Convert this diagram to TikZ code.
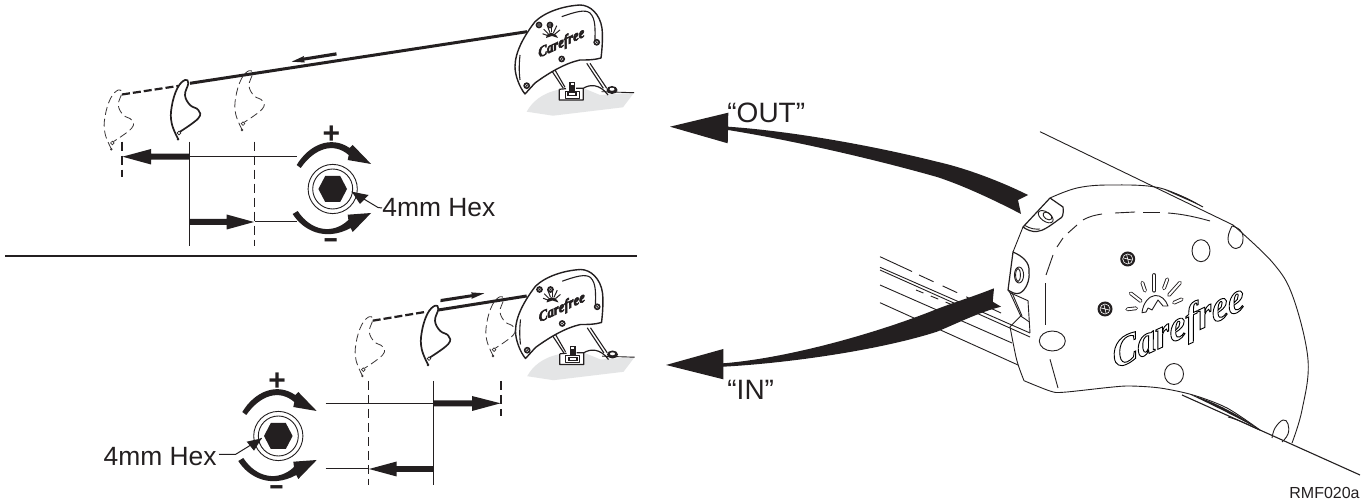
\documentclass[tikz,border=0pt]{standalone}
\usepackage{fontspec}
\usepackage{graphicx}
\setmainfont{Liberation Sans}
\newfontfamily\logofont[FakeSlant=0.3]{Liberation Serif}
\usetikzlibrary{calc}
\definecolor{ink}{HTML}{231F20}
\definecolor{basegray}{HTML}{E4E5E6}
\tikzset{
  thinln/.style={draw=ink,line width=0.7pt,line join=round},
  hair/.style={draw=ink,line width=0.45pt,line join=round},
  fillk/.style={fill=ink,draw=none},
  lab/.style={font=\fontsize{13.2}{14}\selectfont,text=ink,inner sep=0pt},
  dash1/.style={draw=ink!85,line width=0.55pt,dash pattern=on 4.5pt off 2.5pt},
  hookdash/.style={draw=ink!90,line width=0.4pt,dash pattern=on 4pt off 2pt},
  hooksolid/.style={draw=ink,line width=0.85pt},
  pics/hookp/.style={code={
    \path[pic actions,line join=round] plot[smooth,tension=.7] coordinates {(-6.7,59.3)(-13.3,43.3)(-13.3,26.7)(-7.7,8.3)(0,0)(3.3,3.3)(0,15)(5,25)(13.3,30)(13.3,38.3)(-5,51.7)};
    \path[pic actions,line width=0.35pt,solid] (-6,53) circle[radius=1.8];
    \path[pic actions,solid,line width=0.35pt] (-7,59.3) circle[radius=.8];
  }},
  pics/knobp/.style={code={
    \draw[hair] (0,0) circle[radius=24.6];
    \draw[hair] (0,0) circle[radius=20];
    \fill[ink] (-14.3,0)--(-7.5,-13)--(7.5,-13)--(14.3,0)--(7.5,13)--(-7.5,13)--cycle;
    \fill[ink] (-36,-24) .. controls (-24,-44) and (-2,-54) .. (17,-41) -- (20,-44) -- (38.4,-25) -- (15,-29) -- (16,-34) .. controls (1,-47) and (-18,-41) .. (-32,-21) -- cycle;
    \fill[ink] (-40,25) .. controls (-30,41) and (-8,53) .. (18,39) -- (20,43) -- (38.4,24) -- (15,25.7) -- (15.7,31) .. controls (0,46) and (-22,42) .. (-35,22) -- cycle;
    \node[lab,font=\fontsize{15}{15}\bfseries\selectfont,anchor=base] (plus) at (-1.2,-45) {+};
    \node[lab,font=\fontsize{14}{14}\bfseries\selectfont,anchor=base] (minus) at (-1.8,58.5) {\scalebox{1.7}[1]{-}};
  }},
  pics/capp/.style={code={
    % gray base
    \fill[basegray] (526.7,111.7) .. controls (532,102) and (542,93) .. (559,89.7) -- (559.5,100) -- (583,100) -- (583,88) -- (600,95) -- (634,92.7) -- (623,107.3) -- (553,115.7) -- cycle;
    % struts and bracket
    \draw[hair,line width=.55pt] (551.7,70.7) -- (563.3,88.3);
    \draw[hair,line width=.55pt] (555,70) -- (565,87.3);
    \draw[hair,line width=.55pt] (586.7,63.3) -- (603.3,88.3);
    \draw[hair,line width=.55pt] (590,63.3) -- (606.7,88.3);
    \draw[thinln,line width=.6pt] (559.3,89.3) -- (559.3,100) -- (583.3,100) -- (583.3,88.3) .. controls (590,84) and (600,84) .. (608,95);
    \draw[hair,line width=.6pt] (559.3,89.3) -- (566,88.7) (576,88.3) -- (583.3,88.3);
    \draw[hair] (601.7,91.7) -- (634,92.7);
    \draw[thinln,line width=.45pt] (565,91) rectangle (579,98);
    \fill[ink] (567,92.5) rectangle (577,96.5);
    \fill[white] (569,93.5) rectangle (575,95.5);
    \fill[ink] (569,82) rectangle (575,91);
    \fill[white] (570.5,83) rectangle (573.5,85);
    \fill[ink] (612,90) ellipse[x radius=5.5,y radius=4];
    \fill[white] (612,89.3) ellipse[x radius=2.5,y radius=1.5];
    % shell
    \filldraw[fill=white,draw=ink,line width=.7pt,line join=round] (525,94) .. controls (520,88) and (515,76) .. (515,66.7) .. controls (515,52) and (524,36) .. (535,21.7) .. controls (545,12) and (563,6) .. (580,5) .. controls (590,5) and (600,14) .. (602,28.3) .. controls (603,38) and (602,50) .. (601,58) .. controls (594,60) and (588,60) .. (580,60) .. controls (566,63) and (550,72) .. (535,83) -- cycle;
    \draw[hair,line width=.55pt] (520,55) .. controls (519,65) and (519,72) .. (520,80);
    \draw[hair,line width=.55pt] (561.7,16.7) .. controls (575,12) and (585,9) .. (590,13) .. controls (596,19) and (595,30) .. (595,40);
    \foreach \p in {(539,25),(550,25),(596.7,42.3),(561.7,59),(526.7,85.7)} {\fill[ink] \p circle[radius=3.4];\draw[white,line width=.15pt] \p circle[radius=1.5];}
    \node[rotate=25,inner sep=0pt,text=ink,font=\fontsize{7}{7}\logofont\bfseries\itshape\selectfont] (smalllogo) at (560.5,44) {\special{pdf:code 2 Tr 0.3 w}Carefree\special{pdf:code 0 Tr}};
    \foreach \a/\b in {-70/5,-45/6.5,-20/8,0/8,25/8,50/6.5} {\draw[ink,line width=.5pt] ($(551.5,37)+(\a-90:4.5)$) -- ($(551.5,37)+(\a-90:4.5+\b)$);}
    \fill[ink] (546,38) .. controls (547,31) and (555,31) .. (558,38) -- (552,36) -- cycle;
  }},
}
\begin{document}
\begin{tikzpicture}[x=.5pt,y=-.5pt]
\path[use as bounding box,fill=white] (0,0) rectangle (1364,501);

% ---------- divider
\draw[ink,line width=1.2pt] (5,256) -- (637,256);

% ---------- top panel
\pic at (0,0) {capp};
\coordinate (topH) at (185,80);
\coordinate (topHa) at (118.3,90);
\coordinate (topHb) at (249,70.7);
\pic[hookdash] at (topHa) {hookp};
\pic[hookdash] at (topHb) {hookp};
\pic[hooksolid] at (topH) {hookp};
\draw[ink,line width=1.5pt] (190,83.3) -- (527,31.7);
\draw[ink,line width=1.1pt,dash pattern=on 4pt off 1.5pt] (122,94.5) -- (178,86);
\fill[ink] (291.7,61.7) -- (304,56) -- (303.5,57.6) -- (336.3,52.3) -- (336.7,55.5) -- (304,60.6) -- (305,62.5) -- cycle;
\draw[thinln] (189.3,141.7) -- (189.3,245.7);
\draw[dash1,draw=ink] (254.7,141.7) -- (254.7,245.7);
\draw[dash1,draw=ink] (122,141.7) -- (122,177);
\draw[thinln,line width=.5pt] (189.3,156.7) -- (296.7,156.7);
\draw[thinln,line width=.5pt] (254.7,222) -- (296.7,222);
\fill[ink] (189.3,153.7) -- (151,153.7) -- (151,149) -- (122.5,156.7) -- (151,164.5) -- (151,159.7) -- (189.3,159.7) -- cycle;
\fill[ink] (189.3,219) -- (226.7,219) -- (226.7,214.5) -- (254,222) -- (226.7,229.5) -- (226.7,225) -- (189.3,225) -- cycle;
\pic at (332.7,189) {knobp};
\node[lab,anchor=west] (hexa) at (382,208) {4mm Hex};
\coordinate (hexatip) at (351.7,191.7);
\draw[thinln,line width=.5pt] (hexa.west) ++(-4,-.5) coordinate (hexaj) -- (hexa.west);
\draw[thinln,line width=.5pt] (hexaj) -- (hexatip);
\fill[ink] (hexatip) -- (368.5,195) -- (360,204) -- cycle;

% ---------- bottom panel
\pic at (0.5,264.5) {capp};
\coordinate (botH) at (435,305.7);
\coordinate (botHa) at (369.3,316.7);
\coordinate (botHb) at (500,296.7);
\pic[hookdash] at (botHa) {hookp};
\pic[hookdash] at (botHb) {hookp};
\pic[hooksolid] at (botH) {hookp};
\draw[ink,line width=1.5pt] (438.3,310) -- (526.7,296);
\draw[ink,line width=1.1pt,dash pattern=on 4pt off 1.5pt] (372.7,320.7) -- (426.7,311.7);
\fill[ink] (484.3,293.3) -- (471.5,298.9) -- (472,297.2) -- (440.3,302.2) -- (440.7,299) -- (472,294.2) -- (471,292.4) -- cycle;
\draw[thinln] (433.7,381) -- (433.7,485);
\draw[dash1,draw=ink] (368.3,381) -- (368.3,485);
\draw[dash1,draw=ink] (501,381) -- (501,416);
\draw[thinln,line width=.5pt] (325.7,403.3) -- (433.7,403.3);
\draw[thinln,line width=.5pt] (325.7,469) -- (368.3,469);
\fill[ink] (433.7,400.4) -- (472,400.4) -- (472,396) -- (500.5,403.3) -- (472,411) -- (472,406.3) -- (433.7,406.3) -- cycle;
\fill[ink] (433.7,466.2) -- (396.7,466.2) -- (396.7,461.5) -- (369,469) -- (396.7,476.5) -- (396.7,472) -- (433.7,472) -- cycle;
\pic at (278.3,436) {knobp};
\node[lab,anchor=east] (hexb) at (217,456.5) {4mm Hex};
\coordinate (hexbtip) at (261.7,438.3);
\draw[thinln,line width=.5pt] (hexb.east) ++(2,-2) coordinate (hexbj) -- (235.7,454.3) -- (hexbtip);
\fill[ink] (hexbtip) -- (246.7,441.7) -- (254,450.7) -- cycle;

% ---------- large cap
% rail
\draw[hair] (880,256.7) -- (912,271.5);
\draw[hair,dash pattern=on 8pt off 5pt] (919,275) -- (1001,313);
\draw[hair] (880,267.3) -- (1030,333);
\draw[hair] (880,270) -- (1030,337);
\draw[hair] (880,285) -- (1012,343);
\draw[hair] (880,302.7) -- (1018,365);
\draw[hair,dash pattern=on 4pt off 4pt] (916,290) -- (960,308);
\draw[hair] (1010,292.7) -- (1028,300.7) -- (1030,333);
\draw[hair] (1020.7,316) -- (1029,321.7);
% body lines
\draw[hair] (1040,131.7) -- (1233,225);
\draw[hair] plot[smooth,tension=.6] coordinates {(1233,225)(1273,263)(1293,297)(1308,360)(1302,410)(1292,443)};
\draw[thinln,line width=.55pt] (1182,395) -- (1360,475);
\fill[ink] (1190,394.5) .. controls (1210,400) and (1235,412) .. (1260,430) .. controls (1235,416) and (1210,404) .. (1190,394.5) -- cycle;
\draw[hair] (1228,417) .. controls (1240,420) and (1250,426) .. (1260,430);
\draw[hair] plot[smooth,tension=.6] coordinates {(1050,198)(1077,188)(1110,185)(1160,188)(1203,207)};
\fill[ink] (1165,190) .. controls (1180,194) and (1192,200) .. (1203,207) .. controls (1190,201) and (1178,196) .. (1165,190) -- cycle;
\draw[hair] (1023,227) -- (1013,252);
% top tab
\filldraw[fill=white,hair,line width=.6pt] (1050,198) -- (1063,207) .. controls (1064,215) and (1062,218) .. (1060,218.5) .. controls (1050,226) and (1043,231) .. (1037,231.5) .. controls (1032,232) and (1027,230) .. (1023,227) -- cycle;
\draw[hair] (1024,225) .. controls (1030,229) and (1036,229.5) .. (1040,229);
\draw[hair] (1045.7,216.7) ellipse[x radius=8.5,y radius=4.6,rotate=-35];
\draw[hair] (1047.5,216) ellipse[x radius=5,y radius=3.2,rotate=-35];
% lower tab
\filldraw[fill=white,hair,line width=.6pt] (1013,252) .. controls (1022,256) and (1030,262) .. (1029,272) .. controls (1030,280) and (1026,290) .. (1020,293) .. controls (1016,295) and (1011,292) .. (1008,290) -- cycle;
\draw[hair] (1019,275) ellipse[x radius=4.6,y radius=8];
\draw[hair] (1018,275) ellipse[x radius=2.4,y radius=6.5];
\draw[hair] (1008,290) -- (1010,292.7) -- (1020.7,316) -- (1011.7,325) -- (1010,326.7);
\draw[hair] (1012,292.7) -- (1022,316);
\draw[hair] plot[smooth,tension=.5] coordinates {(1010,326.7)(1016.7,360)(1024,380.7)};
\draw[hair] plot[smooth,tension=.5] coordinates {(1024,380.7)(1050,391)(1063,392.3)(1110,387.3)(1130,386)(1160,388)(1193,395)(1227,408)(1260,430)};
% inner dashes
\draw[hair] (1045,325) -- (1045,283);
\draw[hair] (1046,275) -- (1053,255);
\draw[hair] (1057,247) -- (1063,238);
\draw[hair] (1068,233) -- (1077,225);
\draw[hair] (1083,220) .. controls (1090,216) and (1096,215) .. (1102,214);
\draw[hair] (1115,213) -- (1135,212);
\draw[hair] (1143,212) -- (1160,212);
\draw[hair] (1168,213) .. controls (1182,214) and (1196,217) .. (1210,221);
\draw[hair] (1050,359.3) -- (1058,388);
% holes
\draw[hair] (1052.3,341) ellipse[x radius=13,y radius=10];
\draw[hair] (1201,250.7) ellipse[x radius=9,y radius=11];
\draw[hair] (1174,374) ellipse[x radius=9.5,y radius=10.5];
\draw[hair] plot[smooth,tension=.8] coordinates {(1232,226)(1228,238)(1232,247)(1240,247)(1243,238)(1240,230)(1232,226)};
\draw[hair] plot[smooth,tension=.7] coordinates {(1272,438)(1275,428)(1283,420)(1288,424)(1288,434)(1282,442)};
% screws
\foreach \p/\n in {(1127.7,259)/a,(1105,309)/b}{
  \fill[ink] \p coordinate (scr\n) circle[radius=7.5];
  \draw[white,line width=.3pt] (scr\n) circle[radius=5];
  \draw[white,line width=.3pt] ($(scr\n)+(-4,-1)$) -- ($(scr\n)+(4,1)$) ($(scr\n)+(-1,-4)$) -- ($(scr\n)+(1,4)$);
}
% sun rays
\foreach \a/\b/\c/\d in {1127.3/309.3/1136/308.3,1130.7/293.3/1140.7/301,1142.3/282.7/1145/290.7,1154.3/275/1154.3/290.7,1167.3/279.3/1164/288.3,1180/282.7/1169/295,1181.7/299.3/1174/302.7}{
  \draw[ink,line width=1.9pt,line cap=round] (\a,\b) -- (\c,\d);
  \draw[white,line width=1pt,line cap=round] (\a,\b) -- (\c,\d);
}
\draw[hair] (1142,312.7) .. controls (1143,303) and (1149,296) .. (1155,295.5) .. controls (1161,295) and (1166,300) .. (1168,306) -- (1163,306) -- (1158,300) -- (1152,310) -- (1148,308) -- (1146,312) -- cycle;
% logo
\node[rotate=25,inner sep=0pt] (biglogo) at (1176,330) {\fontsize{20}{21}\logofont\bfseries\itshape\special{pdf:code 1 Tr 0.45 w}Carefree\special{pdf:code 0 Tr}};

% ---------- big arrows
\fill[ink] (670,126.7) -- (728.3,112.7) -- (728,126.7) .. controls (790,131) and (870,145) .. (937,161.7) .. controls (965,168) and (1000,181) .. (1028,195) -- (1018,200) -- (1021,214) .. controls (1000,203) and (965,186) .. (937,177) .. controls (870,158) and (790,140) .. (728,130) -- (727.7,143.3) -- cycle;
\fill[ink] (666,365) -- (723.3,349) -- (723.3,363.3) .. controls (790,358) and (880,332) .. (937,309) .. controls (955,302) and (975,296) .. (994,288.3) -- (992.7,301.7) -- (1001,306.7) .. controls (980,312) and (960,322) .. (937,331.7) .. controls (880,350) and (790,363) .. (723.3,366.7) -- (723.3,379.3) -- cycle;

% ---------- labels
\node[lab,font=\fontsize{14}{15}\selectfont,anchor=west] (outl) at (727,113) {“OUT”};
\node[lab,font=\fontsize{14}{15}\selectfont,anchor=west] (inl) at (727,390) {“IN”};
\node[inner sep=0pt,anchor=east,text=ink,font=\fontsize{8}{9}\selectfont] (ref) at (1360,493) {RMF020a};
\end{tikzpicture}
\end{document}
